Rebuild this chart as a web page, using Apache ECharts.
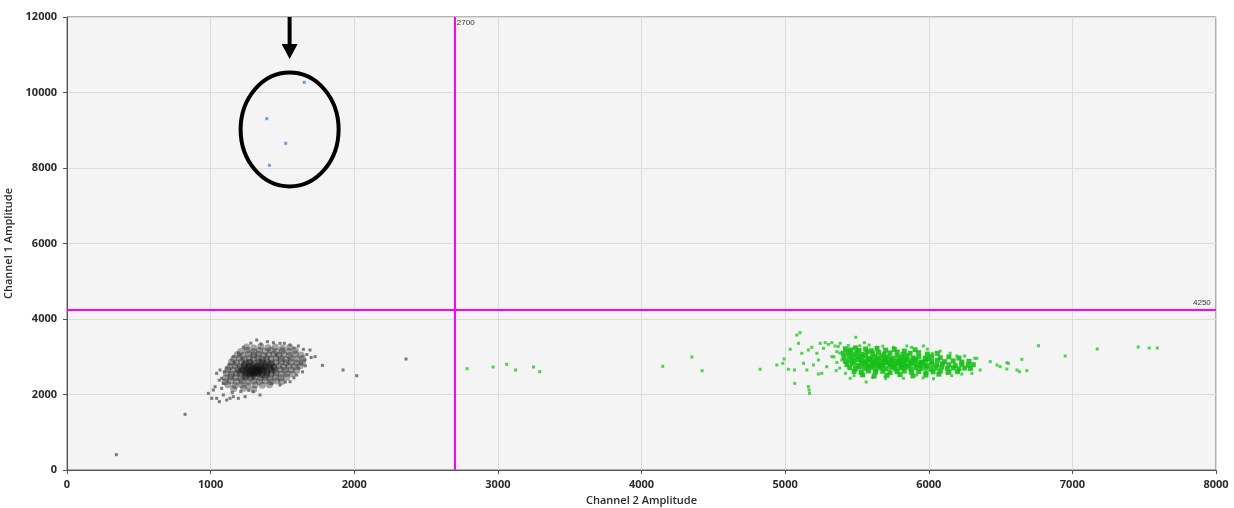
<!DOCTYPE html>
<html>
<head>
<meta charset="utf-8">
<script src="https://cdn.jsdelivr.net/npm/echarts@6/dist/echarts.min.js"></script>
<style>
  html, body { margin: 0; padding: 0; background: #ffffff; }
  #chart { width: 1234px; height: 508px; }
</style>
</head>
<body>
<div id="chart"></div>
<script>
// Droplet amplitudes: [Channel 2 amplitude, Channel 1 amplitude]

// Axis ranges and steps
const xRange = [0, 8000];
const xStep = 1000;
const yRange = [0, 12000];
const yStep = 2000;

// Threshold settings
const xThreshold = 2700;
const yThreshold = 4250;

// Double-negative cluster, dense body
const blackCore = [
  [1250,3260],[1300,3230],[1350,3270],[1400,3240],[1450,3255],[1500,3225],[1550,3250],
  [1210,3140],[1255,3170],[1300,3130],[1340,3165],[1380,3145],[1420,3175],[1460,3135],[1500,3160],[1545,3140],[1590,3165],
  [1185,3060],[1225,3035],[1265,3070],[1300,3045],[1335,3065],[1370,3030],[1405,3055],[1440,3075],[1475,3040],[1510,3060],[1550,3035],[1590,3070],[1630,3045],
  [1160,2940],[1200,2965],[1235,2935],[1270,2960],[1300,2945],[1330,2970],[1360,2935],[1390,2955],[1420,2940],[1455,2965],[1490,2945],[1525,2930],[1560,2960],[1600,2940],[1640,2955],
  [1145,2860],[1180,2835],[1215,2865],[1245,2840],[1275,2855],[1305,2830],[1335,2865],[1365,2845],[1395,2860],[1425,2835],[1455,2850],[1490,2865],[1525,2840],[1560,2855],[1600,2835],[1640,2850],
  [1135,2740],[1170,2765],[1205,2735],[1235,2760],[1265,2745],[1295,2770],[1320,2740],[1350,2755],[1380,2730],[1410,2765],[1440,2745],[1475,2760],[1510,2735],[1545,2755],[1585,2740],[1625,2760],
  [1120,2660],[1155,2640],[1190,2665],[1220,2645],[1250,2670],[1280,2640],[1305,2655],[1330,2635],[1360,2665],[1390,2650],[1420,2670],[1450,2640],[1485,2660],[1520,2645],[1560,2655],[1600,2640],
  [1110,2560],[1145,2535],[1180,2565],[1210,2545],[1240,2570],[1270,2540],[1300,2560],[1330,2550],[1360,2535],[1390,2565],[1420,2545],[1455,2560],[1490,2540],[1530,2555],[1570,2545],
  [1105,2440],[1140,2465],[1175,2450],[1210,2430],[1245,2460],[1280,2445],[1310,2465],[1345,2435],[1380,2455],[1415,2440],[1450,2460],[1490,2445],[1530,2455],
  [1100,2340],[1140,2365],[1180,2345],[1220,2360],[1260,2335],[1300,2355],[1340,2345],[1380,2365],[1420,2340],[1460,2355],[1495,2345],
  [1120,2260],[1170,2240],[1215,2255],[1260,2235],[1310,2260],[1360,2245],[1410,2255],
  [1160,2150],[1230,2165],[1300,2140],
  [1230,2620],[1260,2700],[1285,2590],[1310,2720],[1340,2610],[1365,2700],[1395,2600],[1250,2520],[1290,2500],[1330,2780],
  [1355,2520],[1380,2800],[1235,2790],[1300,2660],[1320,2590],[1275,2760],[1410,2710],[1345,2680],[1260,2580],[1300,2540],
  [1270,2620],[1290,2680],[1315,2630],[1335,2575],[1355,2650],[1285,2560],[1325,2700],[1305,2600],[1250,2640],[1370,2620],
  [1295,2620],[1320,2660],[1280,2655],[1340,2640],[1310,2575],
  [1220,2700],[1390,2520],[1430,2620],[1200,2600],[1380,2760],[1240,2480],[1440,2700],[1350,2850],[1270,2850],[1420,2800]
];

// Double-negative cluster, sparse edge and strays
const blackSpread = [
  [1031,2207],[1008,1899],[1042,1899],[1061,1810],[1089,1987],[1112,1854],[1135,1899],[1158,1942],[1193,1899],[1240,1942],
  [1344,1987],[1297,2074],[984,2031],[1019,2119],[1077,2163],[1089,2296],[1042,2561],[1065,2649],[1077,2430],[1060,2380],
  [1210,2080],[1150,2050],[1265,2110],
  [1321,3444],[1395,3399],[1437,3373],[1483,3356],[1513,3356],[1553,3311],[1611,3285],[1646,3197],[1692,3179],[1727,3002],
  [1657,2914],[1634,2826],[1611,2694],[1599,2517],[1553,2340],[1483,2252],[1425,2296],[1228,3250],[1193,3091],[1158,3002],
  [1280,3360],[1350,3340],[1580,3230],[1670,3060],[1700,2980],[1660,2760],[1640,2600],[1580,2440],[1520,2330],[1130,2800],
  [1110,2700],[1095,2600],
  [1778,2773],[1922,2649],[2017,2498],[2360,2940],[822,1475],[344,406]
];

// Channel 2 positive cluster, dense body
const greenCore = [
  [5420,3210],[5455,3180],[5490,3235],[5515,3170],[5560,3205],[5600,3160],[5640,3220],[5700,3175],[5760,3195],[5830,3150],[5905,3185],
  [5405,3090],[5440,3120],[5470,3075],[5500,3110],[5535,3060],[5570,3130],[5610,3085],[5650,3115],[5690,3070],[5730,3100],[5780,3125],[5820,3065],[5870,3095],[5930,3110],[5990,3070],[6060,3090],
  [5410,2990],[5445,3025],[5475,2970],[5505,3010],[5530,2985],[5560,3030],[5590,2960],[5620,3005],[5650,2975],[5680,3020],[5715,2990],[5745,2965],[5780,3015],[5810,2980],[5850,3025],[5890,2970],[5930,3000],[5975,2960],[6020,3010],[6080,2975],[6140,2995],[6210,2965],
  [5420,2880],[5450,2915],[5480,2870],[5510,2925],[5540,2890],[5565,2860],[5590,2910],[5615,2875],[5640,2930],[5665,2885],[5690,2905],[5720,2865],[5745,2920],[5770,2880],[5800,2900],[5825,2860],[5850,2915],[5880,2875],[5910,2895],[5945,2860],[5980,2910],[6020,2880],[6060,2905],[6110,2870],[6170,2890],[6230,2860],[6280,2880],
  [5430,2790],[5465,2815],[5500,2770],[5530,2830],[5555,2805],[5580,2760],[5605,2845],[5630,2785],[5655,2810],[5680,2770],[5705,2835],[5730,2795],[5755,2760],[5780,2820],[5805,2785],[5830,2805],[5860,2765],[5890,2825],[5920,2790],[5950,2810],[5985,2770],[6020,2800],[6055,2780],[6095,2815],[6140,2790],[6185,2765],[6230,2800],[6275,2775],[6310,2790],
  [5450,2710],[5490,2680],[5525,2725],[5560,2690],[5595,2715],[5630,2670],[5665,2705],[5700,2685],[5735,2720],[5770,2675],[5805,2700],[5840,2725],[5875,2680],[5910,2710],[5945,2690],[5980,2715],[6015,2670],[6050,2700],[6090,2725],[6130,2685],[6170,2705],[6210,2680],[6250,2700],[6290,2690],
  [5480,2610],[5530,2585],[5580,2625],[5630,2595],[5680,2615],[5730,2580],[5780,2605],[5830,2620],[5880,2590],[5930,2610],[5980,2575],[6030,2600],[6080,2620],[6140,2590],[6200,2605],
  [5540,2520],[5620,2490],[5710,2510],[5800,2530],[5890,2495],[5980,2515],[6070,2540],
  [5575,2930],[5625,2845],[5660,2760],[5700,2945],[5740,2840],[5790,2870],[5835,2935],[5870,2820],[5900,2940],[5960,2845],
  [5995,2950],[5610,2775],[5690,2860],[5760,2730],[5820,2750],[5940,2760]
];

// Channel 2 positive cluster, sparse edge and strays
const greenSpread = [
  [2786,2684],[2967,2728],[3061,2799],[3123,2649],[3248,2728],[3291,2605],[4148,2746],[4351,2993],[4422,2631],
  [4826,2668],[4942,2781],[4984,2826],[4993,2940],[5035,3197],[5023,2668],[5065,2649],[5093,3356],[5116,3091],[5128,2826],
  [5151,2649],[5162,3179],[5186,3250],[5081,3576],[5104,3637],[5162,2207],[5167,2119],[5170,2030],[5067,2296],
  [5244,3356],[5279,3373],[5302,3329],[5325,3373],[5383,3356],[5348,3285],[5267,3223],[5221,3091],[5232,2914],[5197,2781],
  [5255,2561],[5232,2543],[5290,2737],[5325,3002],[5360,3135],[5395,2914],[5453,2430],[5355,2631],
  [5492,3515],[5552,3373],[5638,3250],[5754,3250],[5847,3285],[5963,3285],[6025,3091],[6149,3091],[6195,3020],
  [5564,2331],[5696,2472],[5824,2430],[6033,2419],[5917,2517],[6126,2561],
  [6335,2958],[6428,2870],[6475,2781],[6544,2843],[6555,2826],[6544,2675],[6614,2649],[6648,2932],[6631,2605],[6683,2631],
  [6764,3293],[6358,2649],[6497,2737],
  [6950,3020],[7173,3205],[7458,3258],[7535,3232],[7591,3232],
  [5370,3270],[5440,3300],[5520,3290],[5585,3310],[5680,3280],[5880,3250],[5990,3200],[6080,3150],[6250,3020],[6320,2960],
  [6300,2560],[6230,2540],[6160,2500],[5960,2440],[5700,2420],[5610,2450],[5480,2500],[5420,2560],[5380,2700],[5360,2850],
  [5340,3000],[5380,3100]
];

// Channel 1 positive droplets
const blueDots = [[1652,10270],[1391,9306],[1523,8654],[1409,8071]];

const tickFont = { fontFamily: 'Open Sans', fontSize: 11, fontWeight: 'bold', color: '#2a2a2a' };
const plainNumber = function (v) { return String(v); };

const chart = echarts.init(document.getElementById('chart'), null, { renderer: 'canvas' });

chart.setOption({
  animation: false,
  backgroundColor: '#ffffff',
  grid: {
    left: 67, right: 18, top: 17, bottom: 38,
    containLabel: false, outerBoundsMode: 'none',
    show: true, backgroundColor: '#f4f4f4', borderColor: '#6a6a6a', borderWidth: 1
  },
  xAxis: {
    type: 'value', min: xRange[0], max: xRange[1], interval: xStep,
    name: 'Channel 2 Amplitude', nameLocation: 'middle', nameGap: 25,
    nameTextStyle: { fontFamily: 'Open Sans', fontSize: 11, fontWeight: 600, color: '#2a2a2a' },
    axisLine: { show: true, lineStyle: { color: '#555', width: 1 } },
    axisTick: { show: true, length: 4, lineStyle: { color: '#555' } },
    axisLabel: Object.assign({ margin: 9, formatter: plainNumber }, tickFont),
    splitLine: { show: true, lineStyle: { color: '#dcdcdc', width: 1 } }
  },
  yAxis: {
    type: 'value', min: yRange[0], max: yRange[1], interval: yStep,
    name: 'Channel 1 Amplitude', nameLocation: 'middle', nameGap: 46, nameRotate: 90,
    nameTextStyle: { fontFamily: 'Open Sans', fontSize: 11, fontWeight: 600, color: '#2a2a2a' },
    axisLine: { show: true, lineStyle: { color: '#555', width: 1 } },
    axisTick: { show: true, length: 4, lineStyle: { color: '#555' } },
    axisLabel: Object.assign({ margin: 10, formatter: plainNumber }, tickFont),
    splitLine: { show: true, lineStyle: { color: '#dcdcdc', width: 1 } }
  },
  series: [
    {
      type: 'scatter', data: blackCore, symbol: 'circle', symbolSize: 7,
      itemStyle: { color: '#141414', opacity: 0.36 }, silent: true
    },
    {
      type: 'scatter', data: blackSpread, symbol: 'rect', symbolSize: 3,
      itemStyle: { color: '#5a5a5a' }, silent: true
    },
    {
      type: 'scatter', data: greenSpread, symbol: 'rect', symbolSize: 3,
      itemStyle: { color: '#22cc22' }, silent: true
    },
    {
      type: 'scatter', data: greenCore, symbol: 'rect', symbolSize: 5,
      itemStyle: { color: '#16c016', opacity: 0.9 }, silent: true
    },
    {
      type: 'scatter', data: blueDots, symbol: 'rect', symbolSize: 3,
      itemStyle: { color: '#3b8de8' }, silent: true,
      markLine: {
        silent: true, symbol: 'none', animation: false,
        lineStyle: { color: '#ff00ff', width: 2, type: 'solid' },
        label: { show: false },
        data: [{ xAxis: xThreshold }, { yAxis: yThreshold }]
      }
    }
  ]
});

// Threshold captions and the highlight around the channel 1 droplets
const topRight = chart.convertToPixel({ gridIndex: 0 }, [xRange[1], yRange[1]]);
const vTop = chart.convertToPixel({ gridIndex: 0 }, [xThreshold, yRange[1]]);
const hEnd = chart.convertToPixel({ gridIndex: 0 }, [xRange[1], yThreshold]);
const ringCenter = chart.convertToPixel({ gridIndex: 0 }, [1550, 9020]);

chart.setOption({
  graphic: [
    {
      type: 'text', left: vTop[0] + 2, top: vTop[1] + 2, silent: true,
      style: { text: String(xThreshold), font: '8px "Liberation Sans"', fill: '#333' }
    },
    {
      type: 'text', left: hEnd[0] - 23, top: hEnd[1] - 11, silent: true,
      style: { text: String(yThreshold), font: '8px "Liberation Sans"', fill: '#333' }
    },
    {
      type: 'ellipse', silent: true,
      shape: { cx: ringCenter[0], cy: ringCenter[1], rx: 49, ry: 57 },
      style: { fill: 'none', stroke: '#000', lineWidth: 4 }
    },
    {
      type: 'line', silent: true,
      shape: { x1: ringCenter[0], y1: topRight[1], x2: ringCenter[0], y2: topRight[1] + 28 },
      style: { stroke: '#000', lineWidth: 4 }
    },
    {
      type: 'polygon', silent: true,
      shape: { points: [
        [ringCenter[0] - 8, topRight[1] + 27],
        [ringCenter[0] + 8, topRight[1] + 27],
        [ringCenter[0], topRight[1] + 42]
      ] },
      style: { fill: '#000' }
    }
  ]
});
</script>
</body>
</html>
